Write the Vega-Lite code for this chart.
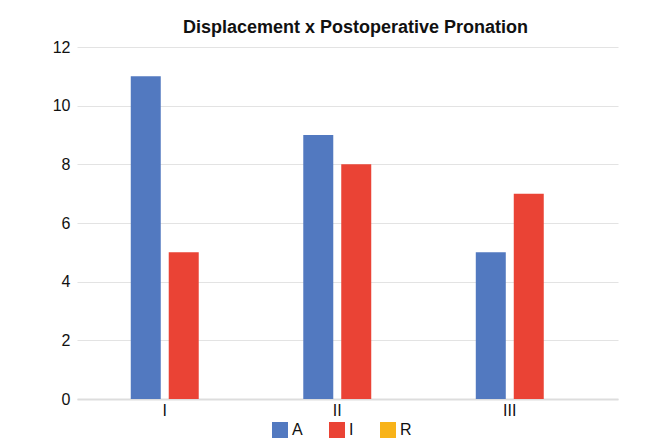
{
  "$schema": "https://vega.github.io/schema/vega-lite/v6.json",
  "autosize": "none",
  "width": 541,
  "height": 352,
  "padding": {"left": 77, "top": 47, "right": 47, "bottom": 46},
  "background": "white",
  "title": {
    "text": "Displacement x Postoperative Pronation",
    "font": "Liberation Sans",
    "fontSize": 18,
    "fontWeight": "bold",
    "color": "#111111",
    "anchor": "middle",
    "dx": 8,
    "offset": 2
  },
  "data": {
    "values": [
      {"group": "I", "series": "A", "value": 11},
      {"group": "I", "series": "I", "value": 5},
      {"group": "II", "series": "A", "value": 9},
      {"group": "II", "series": "I", "value": 8},
      {"group": "III", "series": "A", "value": 5},
      {"group": "III", "series": "I", "value": 7}
    ]
  },
  "mark": {"type": "bar"},
  "encoding": {
    "x": {
      "field": "group",
      "type": "nominal",
      "sort": ["I", "II", "III"],
      "scale": {"paddingInner": 0.606, "paddingOuter": 0.371, "align": 0.42},
      "axis": {
        "title": null,
        "labelAngle": 0,
        "ticks": false,
        "domainColor": "#dddddd",
        "domainWidth": 2,
        "labelFont": "Liberation Sans",
        "labelFontSize": 16,
        "labelColor": "#111111",
        "labelPadding": 3
      }
    },
    "xOffset": {
      "field": "series",
      "type": "nominal",
      "scale": {"domain": ["A", "I"], "paddingInner": 0.21, "paddingOuter": 0}
    },
    "y": {
      "field": "value",
      "type": "quantitative",
      "scale": {"domain": [0, 12]},
      "axis": {
        "title": null,
        "values": [0, 2, 4, 6, 8, 10, 12],
        "ticks": false,
        "domain": false,
        "gridColor": "#e3e3e3",
        "labelFont": "Liberation Sans",
        "labelFontSize": 16,
        "labelColor": "#111111",
        "labelPadding": 7
      }
    },
    "color": {
      "field": "series",
      "type": "nominal",
      "scale": {"domain": ["A", "I", "R"], "range": ["#5279c0", "#ea4335", "#f8b319"]},
      "legend": {
        "title": null,
        "orient": "none",
        "legendX": 195,
        "legendY": 375,
        "direction": "horizontal",
        "symbolType": "square",
        "symbolSize": 256,
        "symbolStrokeWidth": 0,
        "labelFont": "Liberation Sans",
        "labelFontSize": 16,
        "labelColor": "#111111",
        "columnPadding": 26,
        "labelOffset": 4
      }
    }
  },
  "config": {"view": {"stroke": null}}
}
